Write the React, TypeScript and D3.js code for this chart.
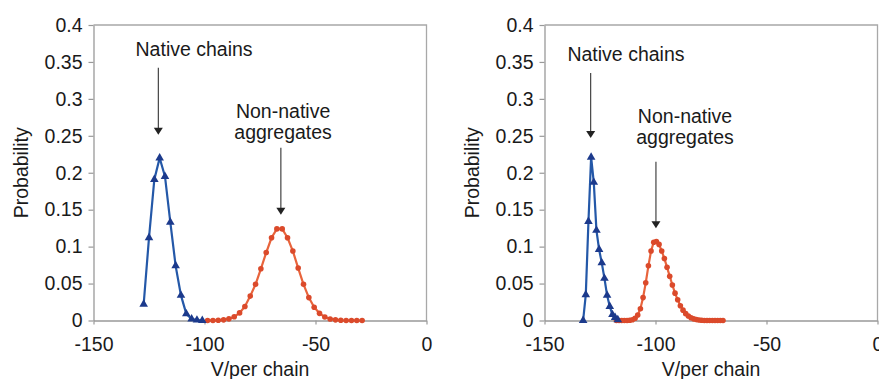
import React, { useEffect, useRef } from 'react';
import * as d3 from 'd3';

// left panel
const leftNativeX = [-127.4, -125, -122.6, -120.2, -117.8, -115.4, -113, -110.6, -108.2, -105.8, -103.4, -101];
const leftNativeY = [0.022, 0.112, 0.191, 0.22, 0.195, 0.133, 0.074, 0.034, 0.009, 0.002, 0.0005, 0];
const leftAggX = [-98.6, -96.2, -93.8, -91.4, -89, -86.6, -84.2, -81.8, -79.4, -77, -74.6, -72.2, -69.8, -67.4, -65,
    -62.6, -60.2, -57.8, -55.4, -53, -50.6, -48.2, -45.8, -43.4, -41, -38.6, -36.2, -33.8, -31.4, -29];
const leftAggY = [0, 0.0001, 0.0003, 0.0009, 0.0022, 0.005, 0.0103, 0.019, 0.033, 0.049, 0.07, 0.092, 0.112, 0.124, 0.124,
    0.112, 0.094, 0.071, 0.049, 0.031, 0.018, 0.0097, 0.0047, 0.0021, 0.0009, 0.0003, 0, 0, 0, 0];

// right panel
const rightNativeX = [-132.6, -131.4, -130.2, -129, -127.8, -126.6, -125.4, -124.2, -123, -121.8, -120.6, -119.4, -118.2, -117];
const rightNativeY = [0, 0.035, 0.134, 0.221, 0.187, 0.122, 0.096, 0.078, 0.057, 0.034, 0.019, 0.008, 0.004, 0.001];
const rightAggX = [-117.6, -116.4, -115.2, -114, -112.8, -111.6, -110.4, -109.2, -108, -106.8, -105.6, -104.4, -103.2, -102,
    -100.8, -99.6, -98.4, -97.2, -96, -94.8, -93.6, -92.4, -91.2, -90, -88.8, -87.6, -86.4, -85.2, -84, -82.8, -81.6,
    -80.4, -79.2, -78, -76.8, -75.6, -74.4, -73.2, -72, -70.8, -69.6];
const rightAggY = [0, 0, 0, 0, 0, 0.0003, 0.001, 0.003, 0.0075, 0.016, 0.031, 0.051, 0.074, 0.094,
    0.106, 0.107, 0.103, 0.094, 0.084, 0.072, 0.06, 0.048, 0.037, 0.028, 0.02, 0.014, 0.0093, 0.006, 0.0037, 0.0022, 0.0012,
    0.0006, 0.0003, 0.0001, 0, 0, 0, 0, 0, 0, 0];

const xTicks = [-150, -100, -50, 0];
const yTicks = [0, 0.05, 0.1, 0.15, 0.2, 0.25, 0.3, 0.35, 0.4];

// annotation anchors in data units
const leftNotes = {
    native: { tx: -104.7, ty: 0.358, ax: -120.8, ay0: 0.342, ay1: 0.2515 },
    agg: { tx: -64.6, ty1: 0.2745, ty2: 0.246, ax: -65.6, ay0: 0.234, ay1: 0.143 },
};
const rightNotes = {
    native: { tx: -113.3, ty: 0.351, ax: -129.2, ay0: 0.335, ay1: 0.247 },
    agg: { tx: -86.7, ty1: 0.2675, ty2: 0.2385, ax: -99.8, ay0: 0.215, ay1: 0.125 },
};

const FONT = '"Liberation Sans", Arial, Helvetica, sans-serif';
const W = 333;
const H = 295.5;
const TOP = 25;

const Panel = ({ left, labelX, nativeX, nativeY, aggX, aggY, notes }) => {
    const gRef = useRef();

    useEffect(() => {
        const g = d3.select(gRef.current);
        g.selectAll('*').remove();

        const x = d3.scaleLinear().domain([-150, 0]).range([0, W]);
        const y = d3.scaleLinear().domain([0, 0.4]).range([H, 0]);

        // frame (top & right)
        g.append('path')
            .attr('d', `M0,0H${W}V${H}`)
            .attr('fill', 'none')
            .attr('stroke', '#a8a8a8')
            .attr('stroke-width', 1.3);

        const yAxis = d3.axisLeft(y).tickValues(yTicks).tickSize(5).tickSizeOuter(0).tickPadding(6)
            .tickFormat(d => String(d));
        const ya = g.append('g').call(yAxis);
        const xAxis = d3.axisBottom(x).tickValues(xTicks).tickSize(4).tickSizeOuter(0).tickPadding(13)
            .tickFormat(d => String(d));
        const xa = g.append('g').attr('transform', `translate(0,${H})`).call(xAxis);

        [ya, xa].forEach(a => {
            a.attr('font-family', FONT).attr('font-size', 19.5);
            a.select('.domain').attr('stroke', '#999').attr('stroke-width', 1.3);
            a.selectAll('.tick line').attr('stroke', '#999').attr('stroke-width', 1.2);
            a.selectAll('.tick text').attr('fill', '#1a1a1a');
        });

        g.append('text')
            .attr('transform', `translate(${labelX},${H / 2}) rotate(-90)`)
            .attr('text-anchor', 'middle')
            .attr('font-family', FONT)
            .attr('font-size', 19.5)
            .attr('fill', '#1a1a1a')
            .text('Probability');

        g.append('text')
            .attr('x', W / 2)
            .attr('y', 376 - TOP)
            .attr('text-anchor', 'middle')
            .attr('font-family', FONT)
            .attr('font-size', 19.5)
            .attr('fill', '#1a1a1a')
            .text('V/per chain');

        const line = d3.line().x(d => x(d[0])).y(d => y(d[1]));

        const agg = d3.zip(aggX, aggY);
        g.append('path')
            .datum(agg)
            .attr('d', line)
            .attr('fill', 'none')
            .attr('stroke', '#e8643c')
            .attr('stroke-width', 2.2);
        g.selectAll('.agg-pt')
            .data(agg)
            .enter()
            .append('circle')
            .attr('class', 'agg-pt')
            .attr('cx', d => x(d[0]))
            .attr('cy', d => y(d[1]))
            .attr('r', 2.8)
            .attr('fill', '#db4a2b');

        const nat = d3.zip(nativeX, nativeY);
        g.append('path')
            .datum(nat)
            .attr('d', line)
            .attr('fill', 'none')
            .attr('stroke', '#2458a8')
            .attr('stroke-width', 2.2);
        const tri = d3.symbol().type(d3.symbolTriangle).size(32);
        g.selectAll('.nat-pt')
            .data(nat)
            .enter()
            .append('path')
            .attr('class', 'nat-pt')
            .attr('transform', d => `translate(${x(d[0])},${y(d[1])})`)
            .attr('d', tri)
            .attr('fill', '#1c3a8c');

        // annotations
        const text = (tx, ty, s) => g.append('text')
            .attr('x', x(tx))
            .attr('y', y(ty))
            .attr('text-anchor', 'middle')
            .attr('font-family', FONT)
            .attr('font-size', 19.5)
            .attr('fill', '#1a1a1a')
            .text(s);
        const arrow = (ax, ay0, ay1) => {
            const px = x(ax);
            const tip = y(ay1);
            g.append('line')
                .attr('x1', px).attr('x2', px)
                .attr('y1', y(ay0)).attr('y2', tip - 6)
                .attr('stroke', '#333')
                .attr('stroke-width', 1.1);
            g.append('path')
                .attr('d', `M${px - 4.5},${tip - 7}L${px + 4.5},${tip - 7}L${px},${tip}Z`)
                .attr('fill', '#222');
        };
        text(notes.native.tx, notes.native.ty, 'Native chains');
        arrow(notes.native.ax, notes.native.ay0, notes.native.ay1);
        text(notes.agg.tx, notes.agg.ty1, 'Non-native');
        text(notes.agg.tx, notes.agg.ty2, 'aggregates');
        arrow(notes.agg.ax, notes.agg.ay0, notes.agg.ay1);
    }, []);

    return <g ref={gRef} transform={`translate(${left},${TOP})`} />;
};

export default function App() {
    return (
        <svg width={879} height={379} style={{ position: 'absolute', left: 0, top: 0, background: '#fff' }}>
            <Panel left={93.5} labelX={-65.5} nativeX={leftNativeX} nativeY={leftNativeY}
                aggX={leftAggX} aggY={leftAggY} notes={leftNotes} />
            <Panel left={544.5} labelX={-65.5} nativeX={rightNativeX} nativeY={rightNativeY}
                aggX={rightAggX} aggY={rightAggY} notes={rightNotes} />
        </svg>
    );
}
